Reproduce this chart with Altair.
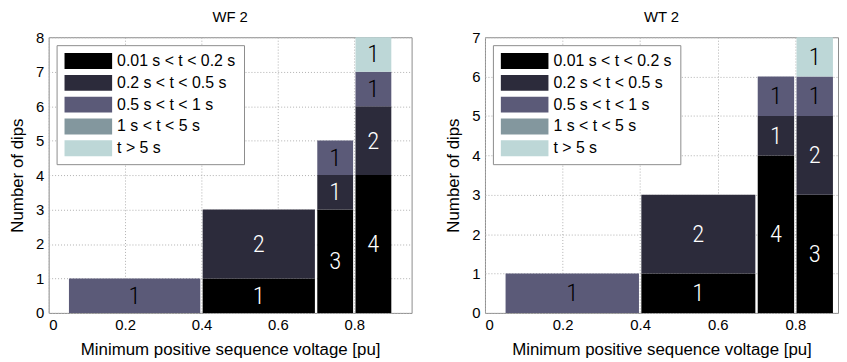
import altair as alt
import pandas as pd

categories = ["0.01 s < t < 0.2 s", "0.2 s < t < 0.5 s", "0.5 s < t < 1 s", "1 s < t < 5 s", "t > 5 s"]
colors = ["#000000", "#2c2b3b", "#5b5a78", "#83979e", "#bdd7d7"]
label_colors = ["white", "white", "black", "black", "black"]
bin_lo = [0.05, 0.4, 0.7, 0.8]
bin_hi = [0.4, 0.7, 0.8, 0.9]
# counts per bin (rows) per duration category (columns)
wf2 = [[0, 0, 1, 0, 0],
       [1, 2, 0, 0, 0],
       [3, 1, 1, 0, 0],
       [4, 2, 1, 0, 1]]
wt2 = [[0, 0, 1, 0, 0],
       [1, 2, 0, 0, 0],
       [4, 1, 1, 0, 0],
       [3, 2, 1, 0, 1]]
x_ticks = [0, 0.2, 0.4, 0.6, 0.8]


def make_df(counts):
    rows = []
    for b, row in enumerate(counts):
        base = 0
        for c, n in enumerate(row):
            if n > 0:
                rows.append(dict(lo=bin_lo[b], hi=bin_hi[b], mid=(bin_lo[b] + bin_hi[b]) / 2,
                                 y0=base, y1=base + n, ym=base + n / 2, n=n,
                                 cat=categories[c], order=c, tcol=label_colors[c]))
            base += n
    return pd.DataFrame(rows)


# wide legend swatch: unit square of sqrt(size) drawn from its left edge
rect_path = "M-1,-1L5,-1L5,1L-1,1Z"


def panel(counts, title, ymax, xmax, width):
    df = make_df(counts)
    xscale = alt.Scale(domain=[0, xmax], nice=False)
    yscale = alt.Scale(domain=[0, ymax], nice=False)
    xaxis = alt.Axis(values=x_ticks, labelExpr="datum.value == 0 ? '0' : format(datum.value, '.1f')",
                     title="Minimum positive sequence voltage [pu]")
    yaxis = alt.Axis(values=list(range(ymax + 1)), title="Number of dips", format="d")
    bars = alt.Chart(df).mark_bar(xOffset=1.2, x2Offset=-1.2).encode(
        x=alt.X("lo:Q", scale=xscale, axis=xaxis),
        x2="hi:Q",
        y=alt.Y("y0:Q", scale=yscale, axis=yaxis),
        y2="y1:Q",
        color=alt.Color("cat:N", scale=alt.Scale(domain=categories, range=colors),
                        legend=alt.Legend(title=None, orient="none", legendX=8, legendY=8,
                                          fillColor="white", strokeColor="#8c8c8c",
                                          padding=8, symbolType=rect_path, symbolSize=256,
                                          symbolStrokeWidth=0, labelFontSize=16,
                                          labelFont="Liberation Sans", labelColor="black",
                                          rowPadding=6, labelOffset=37)),
    )
    text = alt.Chart(df).mark_text(font="Roboto Condensed, Liberation Sans Narrow, DejaVu Sans Condensed, Roboto",
                                   fontSize=25, fontWeight=300).encode(
        x=alt.X("mid:Q", scale=xscale, axis=xaxis),
        y=alt.Y("ym:Q", scale=yscale, axis=yaxis),
        text="n:Q",
        color=alt.Color("tcol:N", scale=None),
    )
    return alt.layer(bars, text).properties(
        width=width, height=278,
        title=alt.TitleParams(title, fontSize=15, font="Liberation Sans", fontWeight="normal", offset=5)
    ).resolve_scale(color="independent")


left = panel(wf2, "WF 2", 8, 0.95, 366)
right = panel(wt2, "WT 2", 7, 0.91, 356)

chart = alt.hconcat(left, right, spacing=32).resolve_scale(color="independent").configure(
    padding=0,
    font="Liberation Sans",
).configure_view(
    stroke="#8c8c8c", strokeWidth=1
).configure_axis(
    domain=False, ticks=False, grid=True, gridColor="#b0b0b0", gridDash=[1, 2], gridWidth=1,
    labelFont="Liberation Sans", labelFontSize=15, labelColor="black", labelPadding=4,
    titleFont="Liberation Sans", titleFontSize=17, titleFontWeight="normal", titleColor="black",
).configure_axisX(titlePadding=9, labelPadding=5).configure_axisY(titlePadding=9, labelPadding=5)

chart.save("out.html", embed_options={"renderer": "svg", "actions": False})
